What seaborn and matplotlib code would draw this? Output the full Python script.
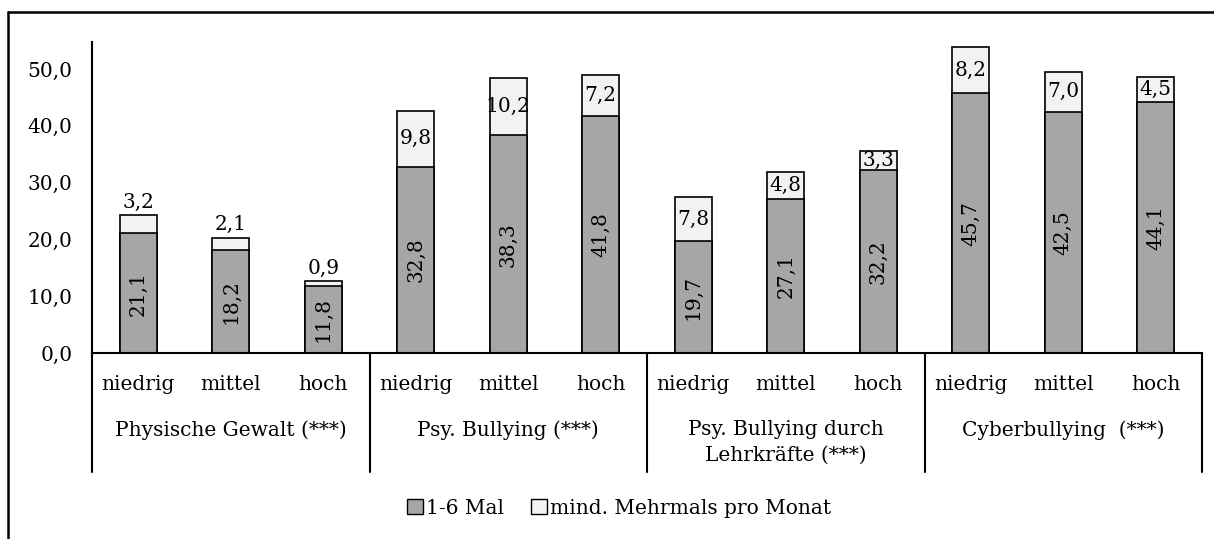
import matplotlib
matplotlib.use("Agg")
import matplotlib.pyplot as plt
from matplotlib.lines import Line2D
from matplotlib.patches import Patch
import seaborn as sns
import pandas as pd

# Data
groups = ["Physische Gewalt (***)", "Psy. Bullying (***)",
          "Psy. Bullying durch\nLehrkräfte (***)", "Cyberbullying  (***)"]
levels = ["niedrig", "mittel", "hoch"]
low_vals = [21.1, 18.2, 11.8, 32.8, 38.3, 41.8, 19.7, 27.1, 32.2, 45.7, 42.5, 44.1]
high_vals = [3.2, 2.1, 0.9, 9.8, 10.2, 7.2, 7.8, 4.8, 3.3, 8.2, 7.0, 4.5]
series = ["1-6 Mal", "mind. Mehrmals pro Monat"]
y_ticks = [0, 10, 20, 30, 40, 50]

rows = []
for i, g in enumerate(groups):
    for j, lv in enumerate(levels):
        k = i * 3 + j
        rows.append({"key": f"{k}", "group": g, "level": lv,
                     "low": low_vals[k], "high": high_vals[k],
                     "total": low_vals[k] + high_vals[k]})
df = pd.DataFrame(rows)
order = list(df["key"])

sns.set_style("white")
plt.rcParams["font.family"] = ["DejaVu Serif"]
plt.rcParams["text.color"] = "black"
plt.rcParams["xtick.color"] = "black"
plt.rcParams["ytick.color"] = "black"
plt.rcParams["axes.edgecolor"] = "black"
FS = 14.5

dark = "#a6a6a6"
light = "#f2f2f2"

fig = plt.figure(figsize=(12.14, 5.39), dpi=100)
ax = fig.add_axes([92 / 1214, 1 - 353 / 539, 1110 / 1214, (353 - 42) / 539])

sns.barplot(data=df, x="key", y="total", order=order, color=light,
            edgecolor="black", linewidth=1.2, width=0.4, saturation=1, ax=ax)
sns.barplot(data=df, x="key", y="low", order=order, color=dark,
            edgecolor="black", linewidth=1.2, width=0.4, saturation=1, ax=ax)

ax.set_ylim(0, 54.75)
ax.set_xlim(-0.5, len(order) - 0.5)
ax.set_yticks(y_ticks)
ax.set_yticklabels([f"{v:.1f}".replace(".", ",") for v in y_ticks], fontsize=FS)
ax.set_xticks(range(len(order)))
ax.set_xticklabels(list(df["level"]), fontsize=FS)
ax.tick_params(axis="x", length=0, pad=16)
ax.tick_params(axis="y", length=6, width=1.5, direction="out", pad=8)
ax.set_xlabel("")
ax.set_ylabel("")
for s in ["top", "right"]:
    ax.spines[s].set_visible(False)
ax.spines["left"].set_linewidth(1.5)
ax.spines["bottom"].set_linewidth(1.5)

# value labels
for k in range(len(order)):
    lo, hi = low_vals[k], high_vals[k]
    ax.text(k, lo / 2, f"{lo:.1f}".replace(".", ","), rotation=90,
            ha="center", va="center", fontsize=FS)
    if hi <= 3.2:
        ax.text(k, lo + hi + 0.6, f"{hi:.1f}".replace(".", ","),
                ha="center", va="bottom", fontsize=FS)
    else:
        ax.text(k, lo + hi / 2, f"{hi:.1f}".replace(".", ","),
                ha="center", va="center", fontsize=FS)

# group labels and separators
tr = ax.get_xaxis_transform()
for i, g in enumerate(groups):
    ax.text(i * 3 + 1, -0.215, g, transform=tr, ha="center", va="top",
            fontsize=FS, linespacing=1.45)
for i in range(len(groups) + 1):
    x = i * 3 - 0.5
    ax.add_line(Line2D([x, x], [0, -0.383], transform=tr, color="black",
                       lw=1.5, clip_on=False))

# legend
handles = [Patch(facecolor=dark, edgecolor="black", label=series[0]),
           Patch(facecolor=light, edgecolor="black", label=series[1])]
fig.legend(handles=handles, loc="center", bbox_to_anchor=(0.51, 1 - 508 / 539),
           ncol=2, frameon=False, fontsize=FS, handlelength=0.8,
           handleheight=0.8, handletextpad=0.15, columnspacing=1.3)

# outer frame (top and left edges only visible)
fig.add_artist(Line2D([8 / 1214, 1], [1 - 12 / 539, 1 - 12 / 539],
                      transform=fig.transFigure, color="black", lw=1.8))
fig.add_artist(Line2D([8 / 1214, 8 / 1214], [0, 1 - 12 / 539],
                      transform=fig.transFigure, color="black", lw=1.8))

fig.savefig("out.png", dpi=100)
